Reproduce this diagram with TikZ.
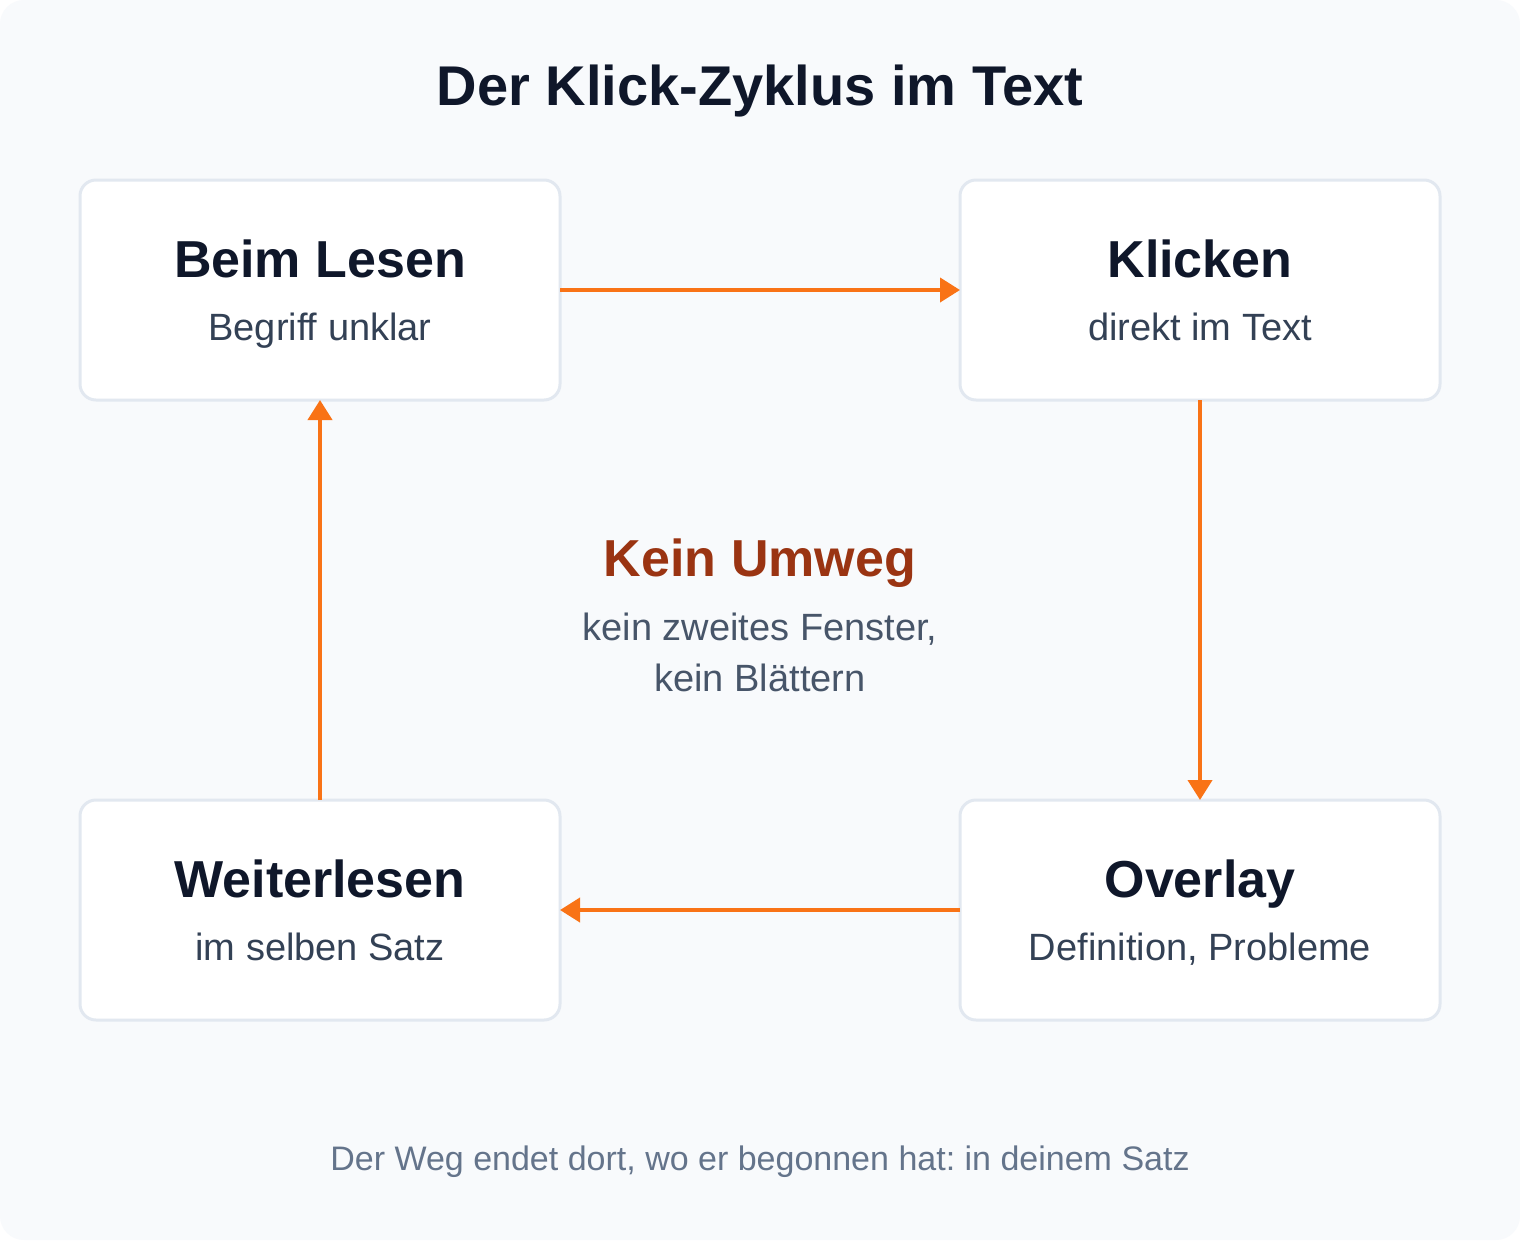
\documentclass[tikz,border=0pt]{standalone}
\usepackage{fontspec}
\setmainfont{Liberation Sans}
\usetikzlibrary{arrows.meta}
\definecolor{bgc}{HTML}{F8FAFC}
\definecolor{bordc}{HTML}{E2E8F0}
\definecolor{darkc}{HTML}{0F172A}
\definecolor{subc}{HTML}{334155}
\definecolor{midc}{HTML}{475569}
\definecolor{footc}{HTML}{64748B}
\definecolor{orangec}{HTML}{F97316}
\definecolor{brownc}{HTML}{9A3412}
\frenchspacing
\tikzset{
  card/.style={draw=bordc, line width=3pt, fill=white, rounded corners=16pt, minimum width=480pt, minimum height=220pt, inner sep=0pt, outer sep=0pt},
  cardtitle/.style={anchor=base, text=darkc, font=\fontsize{52}{60}\selectfont\bfseries},
  cardsub/.style={anchor=base, text=subc, font=\fontsize{38}{44}\selectfont},
  flow/.style={draw=orangec, line width=4pt, -{Triangle[length=20pt,width=24pt]}},
}
\begin{document}
\begin{tikzpicture}[x=1pt,y=-1pt]
\useasboundingbox (0,0) rectangle (1520,1240);
\fill[white] (0,0) rectangle (1520,1240);
\fill[bgc, rounded corners=24pt] (0,0) rectangle (1520,1240);

\node[anchor=base, text=darkc, font=\fontsize{56}{66}\selectfont\bfseries] (title) at (760,105) {Der Klick-Zyklus im Text};

\node[card] (b1) at (320,290) {};
\node[card] (b2) at (1200,290) {};
\node[card] (b3) at (320,910) {};
\node[card] (b4) at (1200,910) {};

\node[cardtitle] (t1) at (320,277) {Beim Lesen};
\node[cardsub] (s1) at (320,340) {Begriff unklar};
\node[cardtitle] (t2) at (1200,277) {Klicken};
\node[cardsub] (s2) at (1200,340) {direkt im Text};
\node[cardtitle] (t3) at (320,897) {Weiterlesen};
\node[cardsub] (s3) at (320,960) {im selben Satz};
\node[cardtitle] (t4) at (1200,897) {Overlay};
\node[cardsub] (s4) at (1200,960) {Definition, Probleme};

\draw[flow] (b1.east) -- (b2.west);
\draw[flow] (b2.south) -- (b4.north);
\draw[flow] (b4.west) -- (b3.east);
\draw[flow] (b3.north) -- (b1.south);

\node[anchor=base, text=brownc, font=\fontsize{52}{60}\selectfont\bfseries] (c1) at (760,576) {Kein Umweg};
\node[anchor=base, text=midc, font=\fontsize{38}{44}\selectfont] (c2) at (760,640) {kein zweites Fenster,};
\node[anchor=base, text=midc, font=\fontsize{38}{44}\selectfont] (c3) at (760,691) {kein Blättern};

\node[anchor=base, text=footc, font=\fontsize{34}{40}\selectfont] (foot) at (760,1170) {Der Weg endet dort, wo er begonnen hat: in deinem Satz};
\end{tikzpicture}
\end{document}
